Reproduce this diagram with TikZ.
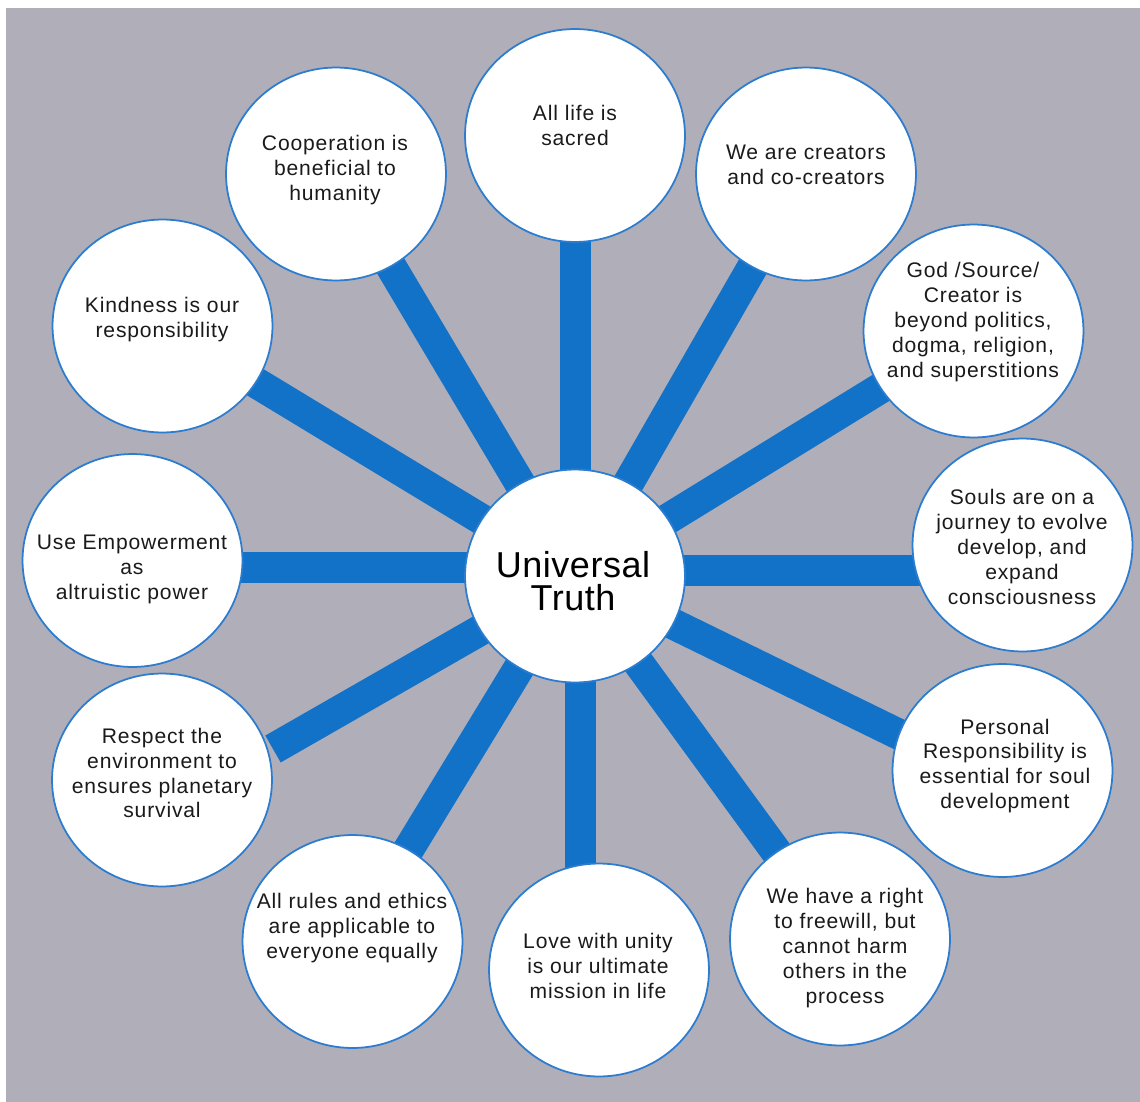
\documentclass[tikz,border=0pt]{standalone}
\usepackage{fontspec}
\setmainfont{Liberation Sans}[LetterSpace=4]
\newfontfamily\centerfont{Liberation Sans}[LetterSpace=1.5]
\usetikzlibrary{shapes.geometric}
\definecolor{bggray}{HTML}{B0AEB8}
\definecolor{spokeblue}{HTML}{1272C8}
\definecolor{rimblue}{HTML}{2C7CCF}
\definecolor{inkblack}{HTML}{1A1A1A}
\pgfdeclarelayer{back}
\pgfdeclarelayer{spokes}
\pgfsetlayers{back,spokes,main}
\begin{document}
\begin{tikzpicture}[x=0.02cm,y=-0.02cm,
  bubble/.style={ellipse, draw=rimblue, line width=1pt, fill=white,
    minimum width=4.4cm, minimum height=4.26cm, inner sep=0pt},
  spoke/.style={draw=spokeblue, line width=0.62cm},
  txt/.style={align=center, font=\fontsize{12}{14.2}\selectfont, text=inkblack, inner sep=0pt},
  bigtxt/.style={align=center, font=\centerfont\fontsize{20.5}{18.5}\selectfont, text=black, inner sep=0pt}]
\useasboundingbox (0,0) rectangle (1140,1102);
\begin{pgfonlayer}{back}
  \fill[bggray] (6,8) rectangle (1140,1102);
\end{pgfonlayer}

% circles
\node[bubble] (uc) at (575,576) {};
\node[bubble] (c1) at (575,135.5) {};
\node[bubble] (c2) at (806,174) {};
\node[bubble] (c3) at (973.5,331) {};
\node[bubble] (c4) at (1022.5,545) {};
\node[bubble] (c5) at (1002.5,770.5) {};
\node[bubble] (c6) at (840,939) {};
\node[bubble] (c7) at (599,970) {};
\node[bubble] (c8) at (352.5,941.5) {};
\node[bubble] (c9) at (162,780) {};
\node[bubble] (c10) at (132.5,560.5) {};
\node[bubble] (c11) at (162.5,326) {};
\node[bubble] (c12) at (336,174) {};

% spoke end points that deviate from circle centres
\coordinate (e4) at (1022,570);
\coordinate (s4) at (575,570);
\coordinate (e10) at (132,567.5);
\coordinate (s10) at (575,567.5);
\coordinate (e7) at (580,970);
\coordinate (s7) at (580,576);
\coordinate (e9) at (273,749);
\coordinate (e5) at (1002.5,785);

\begin{pgfonlayer}{spokes}
  \draw[spoke] (uc.center) -- (c1.center);
  \draw[spoke] (uc.center) -- (c2.center);
  \draw[spoke] (uc.center) -- (c3.center);
  \draw[spoke] (s4) -- (e4);
  \draw[spoke] (uc.center) -- (e5);
  \draw[spoke] (uc.center) -- (c6.center);
  \draw[spoke] (s7) -- (e7);
  \draw[spoke] (uc.center) -- (c8.center);
  \draw[spoke] (uc.center) -- (e9);
  \draw[spoke] (s10) -- (e10);
  \draw[spoke] (uc.center) -- (c11.center);
  \draw[spoke] (uc.center) -- (c12.center);
\end{pgfonlayer}

% texts
\node[bigtxt] (tc) at (573,581) {Universal\\Truth};
\node[txt] (t1) at (575,125) {All life is\\sacred};
\node[txt] (t2) at (806,165) {We are creators\\and co-creators};
\node[txt] (t3) at (973,322) {God /Source/\\Creator is\\beyond politics,\\dogma, religion,\\and superstitions};
\node[txt] (t4) at (1022,547) {Souls are on a\\journey to evolve\\develop, and\\expand\\consciousness};
\node[txt] (t5) at (1005,766) {Personal\\Responsibility is\\essential for soul\\development};
\node[txt] (t6) at (845,948) {We have a right\\to freewill, but\\cannot harm\\others in the\\process};
\node[txt] (t7) at (598,966) {Love with unity\\is our ultimate\\mission in life};
\node[txt] (t8) at (352,928) {All rules and ethics\\are applicable to\\everyone equally};
\node[txt] (t9) at (162,773) {Respect the\\environment to\\ensures planetary\\survival};
\node[txt] (t10) at (132,569) {Use Empowerment\\as\\altruistic power};
\node[txt] (t11) at (162,320) {Kindness is our\\responsibility};
\node[txt] (t12) at (335,170) {Cooperation is\\beneficial to\\humanity};
\end{tikzpicture}
\end{document}
